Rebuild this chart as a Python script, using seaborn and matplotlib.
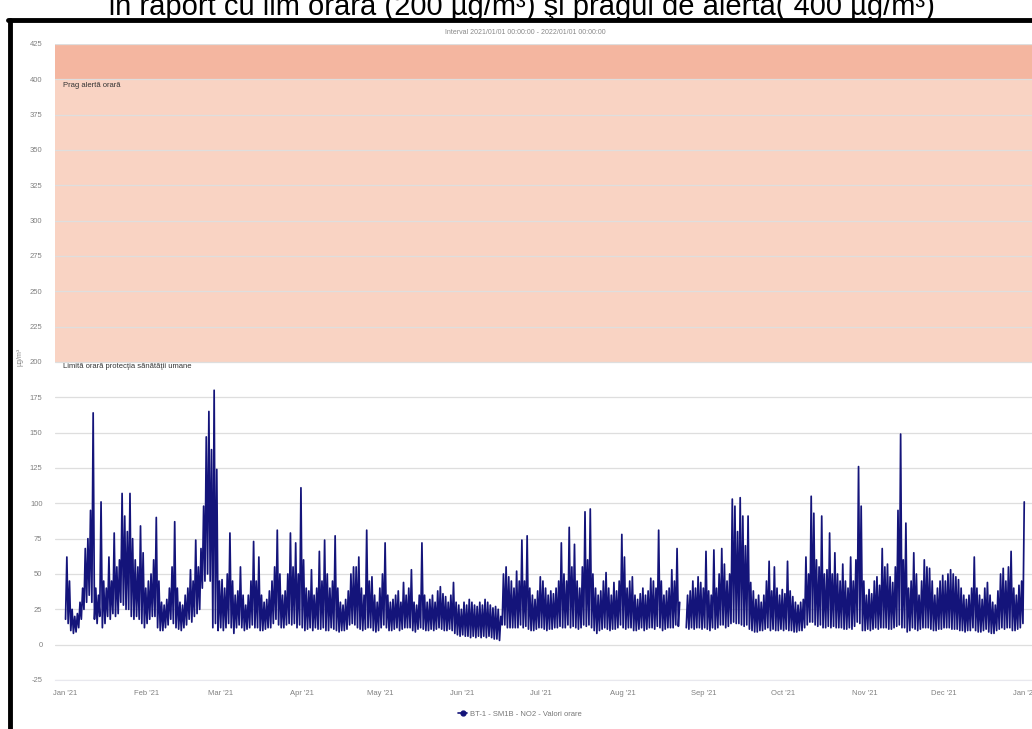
import numpy as np
import pandas as pd
import matplotlib
matplotlib.use("Agg")
import matplotlib.pyplot as plt
from matplotlib.lines import Line2D
import seaborn as sns

# ---------------- data (daily low / high of hourly NO2) ----------------
start_date = "2021-01-01"
nan = np.nan
daily_max = [
    62, 45, 25, 20, 22, 30, 40, 68, 75, 95,
    164, 40, 35, 101, 45, 40, 62, 45, 79, 55,
    60, 107, 91, 80, 107, 75, 60, 55, 84, 65,
    40, 45, 50, 60, 90, 45, 30, 28, 32, 40,
    55, 87, 40, 30, 28, 35, 40, 53, 45, 74,
    55, 68, 98, 147, 165, 138, 180, 124, 45, 46,
    40, 50, 79, 45, 35, 38, 55, 35, 28, 35,
    45, 73, 45, 62, 35, 30, 32, 38, 45, 55,
    81, 50, 35, 38, 50, 79, 55, 72, 50, 111,
    60, 40, 38, 53, 35, 40, 66, 45, 74, 50,
    40, 45, 77, 40, 30, 28, 32, 38, 50, 55,
    55, 62, 40, 35, 81, 45, 48, 35, 30, 40,
    50, 72, 35, 30, 32, 35, 38, 30, 44, 35,
    40, 53, 30, 28, 35, 72, 35, 30, 32, 35,
    30, 38, 41, 36, 34, 30, 35, 44, 30, 28,
    25, 30, 28, 32, 30, 28, 27, 30, 28, 32,
    30, 28, 26, 27, 25, 20, 50, 55, 48, 45,
    40, 52, 45, 74, 45, 77, 40, 35, 32, 38,
    48, 45, 40, 35, 38, 36, 40, 45, 72, 50,
    45, 83, 55, 71, 45, 40, 55, 94, 60, 96,
    50, 40, 35, 38, 45, 51, 40, 35, 44, 38,
    45, 78, 62, 40, 45, 48, 35, 32, 36, 40,
    35, 38, 47, 45, 40, 81, 45, 35, 38, 40,
    53, 45, 68, 30, nan, nan, 35, 38, 45, 40,
    48, 44, 40, 66, 38, 35, 67, 40, 50, 68,
    57, 45, 50, 103, 98, 80, 104, 91, 70, 91,
    44, 38, 32, 35, 30, 35, 45, 59, 38, 55,
    40, 35, 39, 36, 59, 38, 34, 30, 28, 30,
    32, 62, 50, 105, 93, 60, 55, 91, 50, 53,
    79, 50, 65, 50, 45, 57, 45, 40, 62, 45,
    60, 126, 98, 45, 35, 39, 36, 45, 48, 42,
    68, 55, 57, 48, 44, 55, 95, 149, 60, 86,
    40, 45, 65, 50, 35, 45, 60, 55, 54, 45,
    35, 40, 45, 49, 45, 50, 53, 50, 48, 46,
    40, 35, 32, 35, 40, 62, 40, 35, 32, 40,
    44, 35, 30, 28, 38, 50, 54, 45, 55, 66,
    40, 35, 42, 45, 101,
]
daily_min = [
    18, 15, 10, 8, 9, 12, 18, 25, 30, 35,
    30, 18, 15, 20, 12, 15, 20, 18, 22, 20,
    22, 30, 28, 25, 25, 20, 18, 20, 18, 15,
    12, 15, 18, 20, 20, 12, 10, 10, 12, 14,
    18, 15, 12, 11, 10, 12, 14, 18, 16, 20,
    22, 25, 40, 45, 50, 45, 12, 15, 10, 12,
    10, 12, 15, 12, 8, 12, 14, 12, 10, 11,
    12, 14, 12, 12, 10, 10, 11, 12, 12, 15,
    18, 14, 12, 12, 14, 15, 14, 15, 12, 14,
    12, 10, 11, 12, 10, 12, 11, 11, 12, 10,
    10, 12, 11, 10, 9, 10, 10, 11, 14, 15,
    14, 12, 11, 10, 11, 12, 12, 10, 9, 10,
    12, 14, 12, 10, 10, 11, 12, 10, 11, 12,
    12, 12, 10, 9, 11, 12, 11, 10, 10, 11,
    10, 11, 12, 11, 10, 10, 11, 10, 8, 7,
    6, 7, 6, 6, 5, 6, 5, 6, 5, 6,
    5, 6, 5, 4, 4, 3, 14, 14, 12, 12,
    12, 12, 12, 14, 12, 13, 11, 10, 10, 11,
    12, 12, 11, 10, 11, 11, 12, 12, 13, 12,
    12, 14, 12, 13, 12, 11, 12, 14, 13, 14,
    12, 10, 8, 10, 11, 12, 11, 10, 11, 11,
    12, 14, 12, 11, 12, 12, 10, 10, 11, 12,
    10, 11, 12, 12, 11, 13, 12, 10, 11, 12,
    12, 12, 14, 13, nan, nan, 12, 11, 12, 11,
    12, 12, 11, 12, 11, 10, 12, 11, 12, 14,
    14, 12, 13, 15, 16, 15, 15, 14, 13, 14,
    11, 10, 9, 9, 10, 10, 11, 12, 10, 11,
    10, 10, 11, 10, 11, 10, 10, 9, 9, 10,
    10, 12, 14, 16, 16, 14, 13, 14, 12, 12,
    13, 12, 13, 12, 12, 12, 11, 11, 12, 11,
    13, 16, 15, 10, 10, 11, 10, 11, 12, 11,
    12, 12, 12, 11, 11, 12, 13, 14, 12, 12,
    9, 10, 12, 11, 10, 11, 12, 12, 12, 11,
    10, 10, 11, 11, 12, 12, 12, 11, 11, 11,
    10, 10, 9, 10, 10, 12, 10, 9, 9, 10,
    11, 9, 8, 8, 10, 11, 12, 11, 12, 12,
    10, 10, 11, 12, 15,
]
y_ticks = [-25, 0, 25, 50, 75, 100, 125, 150, 175, 200, 225, 250, 275, 300, 325, 350, 375, 400, 425]
month_labels = ["Jan '21", "Feb '21", "Mar '21", "Apr '21", "May '21", "Jun '21", "Jul '21",
                "Aug '21", "Sep '21", "Oct '21", "Nov '21", "Dec '21", "Jan '22"]
limit_hourly = 200
alert_threshold = 400
series_name = "BT-1 - SM1B - NO2 - Valori orare"
title_text = "în raport cu lim orară (200 µg/m³) şi pragul de alertă( 400 µg/m³)"
subtitle_text = "Interval 2021/01/01 00:00:00 - 2022/01/01 00:00:00"

# ---------------- build long table ----------------
days = pd.date_range(start_date, periods=len(daily_max), freq="D")
rows = []
seg = 0
for d, lo, hi in zip(days, daily_min, daily_max):
    if np.isnan(hi):
        seg += 1
        continue
    rows.append((d + pd.Timedelta(hours=5), lo, seg))
    rows.append((d + pd.Timedelta(hours=17), hi, seg))
df = pd.DataFrame(rows, columns=["time", "value", "segment"])

# ---------------- figure ----------------
sns.set_theme(style="white")
plt.rcParams["font.family"] = ["Liberation Sans", "DejaVu Sans"]
W, H = 1032, 729
fig = plt.figure(figsize=(W / 100, H / 100), dpi=100)
fig.patch.set_facecolor("white")

ax_left, ax_right, ax_top, ax_bot = 55, 1050, 44, 680
ax = fig.add_axes([ax_left / W, 1 - ax_bot / H, (ax_right - ax_left) / W, (ax_bot - ax_top) / H])

x0 = pd.Timestamp(start_date) - pd.Timedelta(days=3.8)
x1 = pd.Timestamp(start_date) + pd.Timedelta(days=374.5)

ax.axhspan(alert_threshold, 425, color="#F4B6A0", zorder=0.1, lw=0)
ax.axhspan(limit_hourly, alert_threshold, color="#F9D3C3", zorder=0.1, lw=0)

sns.lineplot(data=df, x="time", y="value", units="segment", estimator=None,
             color="#14147a", lw=1.25, ax=ax, legend=False, zorder=3)

ax.set_xlim(x0, x1)
ax.set_ylim(-25, 425)
ax.set_yticks(y_ticks)
ax.set_yticklabels([str(t) for t in y_ticks])
month_ticks = pd.date_range(start_date, periods=len(month_labels), freq="MS")
ax.set_xticks(month_ticks)
ax.set_xticklabels(month_labels)
ax.tick_params(axis="both", length=0, labelsize=5.5, labelcolor="#808080")
ax.tick_params(axis="y", pad=9)
ax.tick_params(axis="x", pad=7)
ax.set_axisbelow(True)
ax.yaxis.grid(True, color="#dedede", lw=0.9)
ax.xaxis.grid(False)
for s in ["top", "right", "left"]:
    ax.spines[s].set_visible(False)
ax.spines["bottom"].set_color("#e8e8ee")
ax.spines["bottom"].set_linewidth(0.8)
ax.set_xlabel("")
ax.set_ylabel("")

ax.text(pd.Timestamp(start_date) - pd.Timedelta(days=0.8), alert_threshold - 2, "Prag alertă orară",
        fontsize=5.5, color="#333333", va="top", ha="left", zorder=4)
ax.text(pd.Timestamp(start_date) - pd.Timedelta(days=0.8), limit_hourly - 1, "Limită orară protecţia sănătăţii umane",
        fontsize=5.5, color="#333333", va="top", ha="left", zorder=4)

fig.text(20 / W, 1 - 357 / H, "µg/m³", rotation=90, fontsize=5, color="#888888", ha="center", va="center")
fig.text(525 / W, 1 - 32 / H, subtitle_text, fontsize=5, color="#888888", ha="center", va="center")
fig.text(522 / W, 1 - 15 / H, title_text, fontsize=21, color="black", ha="center", va="baseline")

handle = Line2D([], [], color="#14147a", marker="o", markersize=3.5, lw=1.2)
fig.legend([handle], [series_name], loc="center", bbox_to_anchor=(520 / W, 1 - 714 / H),
           frameon=False, fontsize=5.5, labelcolor="#777777", handlelength=1.2, handletextpad=0.4)

# screenshot frame (black border top and left)
fig.add_artist(Line2D([8 / W, 1], [1 - 20 / H, 1 - 20 / H], color="black", lw=3.5, transform=fig.transFigure))
fig.add_artist(Line2D([9.5 / W, 9.5 / W], [0, 1 - 20 / H], color="black", lw=3.5, transform=fig.transFigure))

fig.savefig("out.png", dpi=100)
